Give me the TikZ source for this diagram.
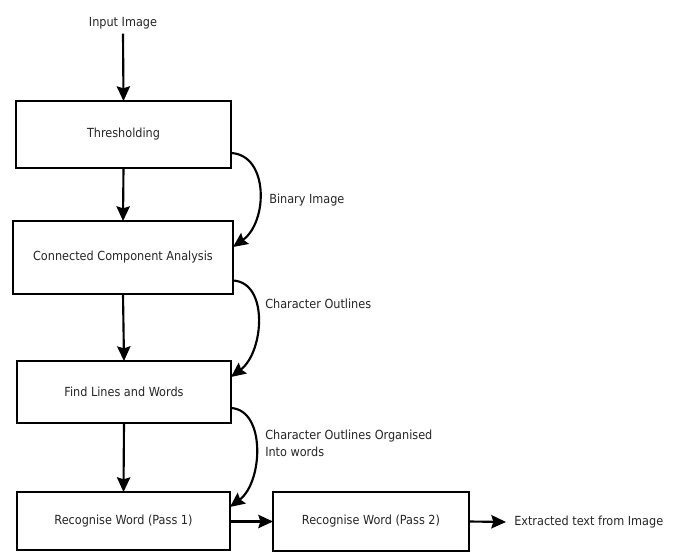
\documentclass[tikz,border=0pt]{standalone}
\usepackage{fontspec}
\setmainfont{DejaVu Sans Condensed}
\usetikzlibrary{arrows.meta,calc}
\begin{document}
\begin{tikzpicture}[x=0.75pt,y=-0.75pt,
  every node/.style={font=\fontsize{9.4pt}{11pt}\selectfont, text=black!85},
  procbox/.style={draw=black, line width=1.8pt, outer sep=0pt, inner sep=0pt, fill=white},
  flow/.style={line width=1.6pt, -{Stealth[length=11pt,width=10pt,inset=1.5pt]}},
  lbl/.style={anchor=west, inner sep=0pt, align=left}]
\useasboundingbox[fill=white] (0,0) rectangle (675,552);
\node (in) at (123,23) {Input Image};
\node[procbox, minimum width=161.25pt, minimum height=50.25pt] (b1) at (123.5,134.5) {Thresholding};
\node[procbox, minimum width=165pt, minimum height=54.75pt] (b2) at (123,257.5) {Connected Component Analysis};
\node[procbox, minimum width=160.5pt, minimum height=46.5pt] (b3) at (124,392) {Find Lines and Words};
\node[procbox, minimum width=159.75pt, minimum height=43.5pt] (b4) at (123.5,521) {Recognise Word (Pass 1)};
\node[procbox, minimum width=147pt, minimum height=44.25pt] (b5) at (371,521.5) {Recognise Word (Pass 2)};
\node[lbl] (out) at (514,522) {Extracted text from Image};
\node[lbl] (l1) at (269,200) {Binary Image};
\node[lbl] (l2) at (265,304) {Character Outlines};
\node[lbl, align=left] (l3) at (265,443) {Character Outlines Organised\\[2pt]Into words};
\draw[flow] (in.south) -- (b1.north);
\draw[flow] (b1.south) -- (b2.north);
\draw[flow] (b2.south) -- (b3.north);
\draw[flow] (b3.south) -- (b4.north);
\draw[flow] (b4.east |- b5.west) -- (b5.west);
\draw[flow] (b5.east) -- ([xshift=-6pt]out.west);
\draw[flow] ($(b1.east)+(0,18.5)$) .. controls +(38,2) and +(35,-25) .. ($(b2.east)+(0,-10.5)$);
\draw[flow] ($(b2.east)+(0,23)$) .. controls +(36,2) and +(33,-25) .. ($(b3.east)+(0,-15)$);
\draw[flow] ($(b3.east)+(0,16)$) .. controls +(35,2) and +(33,-25) .. ($(b4.east)+(0,-14)$);
\end{tikzpicture}
\end{document}
